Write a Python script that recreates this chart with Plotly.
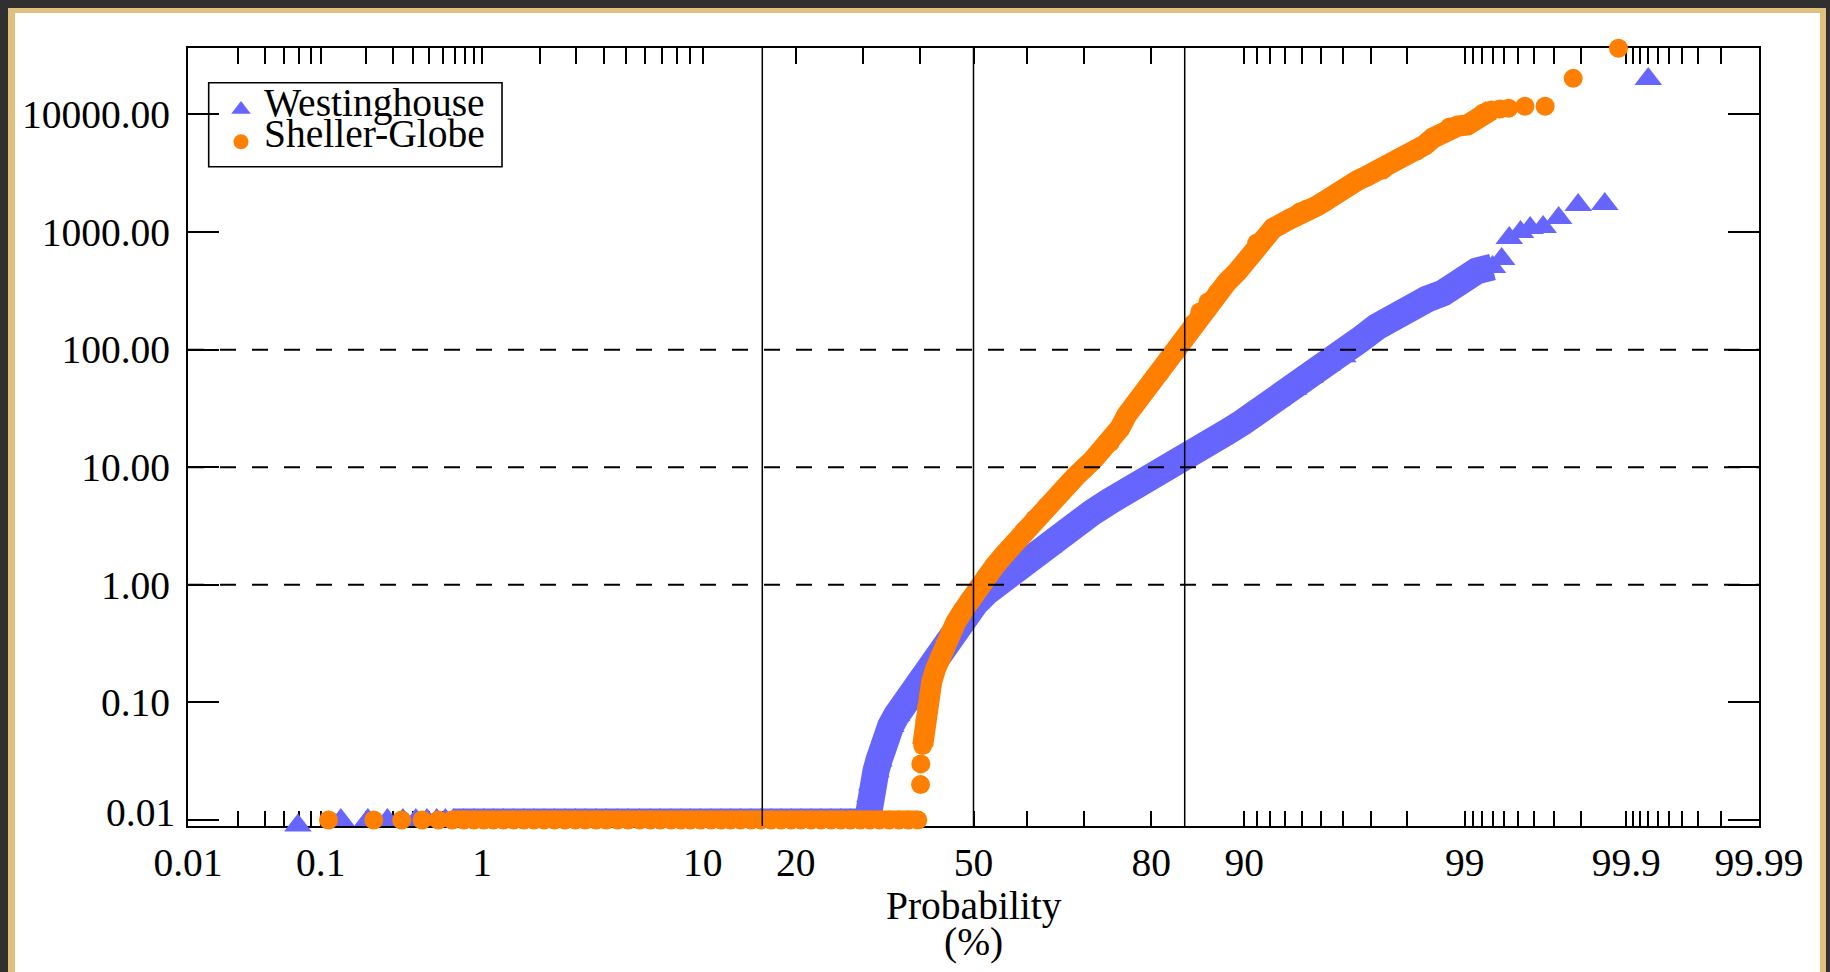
import plotly.graph_objects as go
from statistics import NormalDist

_nd = NormalDist()


def zq(p):
    """probability (%) -> position on the normal-probability axis"""
    return _nd.inv_cdf(p / 100.0)


# ---------------- data ----------------
series_names = ["Westinghouse", "Sheller-Globe"]

west_pct = [0.069, 0.137, 0.207, 0.276, 0.345, 0.414, 0.483, 0.552, 0.62, 0.69,
            0.79, 0.90, 1.02, 1.15, 1.30, 1.47, 1.66, 1.87, 2.1, 2.36,
            2.65, 2.97, 3.3, 3.7, 4.1, 4.6, 5.1, 5.7, 6.3, 6.9,
            7.6, 8.3, 9.0, 9.8, 10.7, 11.6, 12.5, 13.5, 14.6, 15.7,
            16.9, 18.1, 19.4, 20.7, 22.1, 23.5, 25.0, 26.5, 28.0, 29.6,
            30.8,
            30.9, 31.2, 31.5, 32.2, 32.7, 33.2, 33.9, 34.75, 35.8, 37.1,
            38.3, 39.6, 40.9, 42.2, 43.6, 45.1, 46.85, 48.55, 50.4, 52.5,
            54.6, 56.8, 59.1, 61.4, 63.8, 65.9, 68.6, 71.4, 74.1, 76.6,
            78.9, 81.1, 82.7, 84.2, 85.6, 86.85, 88.5, 89.9, 91.25, 92.45,
            93.5, 94.43, 95.28, 95.98, 96.63, 97.19, 97.64, 98.06, 98.41, 98.69,
            98.93, 99.14, 99.30, 99.38, 99.44, 99.52, 99.58, 99.65, 99.72, 99.79,
            99.86, 99.93]
west_val = [0.009, 0.01, 0.01, 0.01, 0.01, 0.01, 0.01, 0.01, 0.01, 0.01,
            0.01, 0.01, 0.01, 0.01, 0.01, 0.01, 0.01, 0.01, 0.01, 0.01,
            0.01, 0.01, 0.01, 0.01, 0.01, 0.01, 0.01, 0.01, 0.01, 0.01,
            0.01, 0.01, 0.01, 0.01, 0.01, 0.01, 0.01, 0.01, 0.01, 0.01,
            0.01, 0.01, 0.01, 0.01, 0.01, 0.01, 0.01, 0.01, 0.01, 0.01,
            0.01,
            0.0127, 0.016, 0.020, 0.026, 0.032, 0.041, 0.051, 0.063, 0.078, 0.097,
            0.12, 0.149, 0.189, 0.234, 0.29, 0.367, 0.455, 0.565, 0.70, 0.87,
            1.04, 1.24, 1.47, 1.76, 2.10, 2.81, 3.42, 4.16, 5.16, 6.40,
            7.63, 9.10, 10.65, 12.2, 14.0, 16.1, 19.9, 24.2, 30.0, 37.3,
            46.2, 58.5, 74.0, 88.0, 121.0, 156.0, 193.0, 230.0, 269.0, 303.0,
            398.0, 466.0, 504.0, 589.0, 889.0, 1000.0, 1081.0, 1104.0, 1315.0, 1698.0,
            1731.0, 20000.0]

sheller_pct = [0.113, 0.226, 0.339, 0.452, 0.565, 0.678, 0.79, 0.90, 1.02, 1.15,
               1.30, 1.47, 1.66, 1.87, 2.1, 2.36, 2.65, 2.97, 3.3, 3.7,
               4.1, 4.6, 5.1, 5.7, 6.3, 6.9, 7.6, 8.3, 9.0, 9.8,
               10.7, 11.6, 12.5, 13.5, 14.6, 15.7, 16.9, 18.1, 19.4, 20.7,
               22.1, 23.5, 25.0, 26.5, 28.0, 29.6, 31.2, 32.8, 34.5, 36.2,
               37.9, 39.6,
               40.1, 40.15, 40.5, 40.7, 40.9, 41.25, 41.6, 42.15, 42.9, 43.65,
               44.6, 45.5, 46.65, 47.95, 49.3, 50.8, 52.3, 54.0, 55.7, 57.6,
               59.4, 61.4, 63.6, 65.9, 68.6, 71.4, 74.1, 75.6, 76.6, 77.75,
               78.9, 80.1, 81.1, 82.1, 83.2, 84.2, 85.05, 85.8, 86.65, 87.55,
               88.5, 89.4, 90.2, 91.0, 92.2, 93.3, 93.9, 94.27, 94.8, 95.2,
               95.55, 95.94, 96.26, 96.56, 96.87, 97.13, 97.37, 97.62, 97.83, 98.01,
               98.21, 98.37, 98.52, 98.67, 98.79, 98.91, 99.03, 99.12, 99.21, 99.29,
               99.365, 99.435, 99.548, 99.66, 99.774, 99.887]
sheller_val = [0.01, 0.01, 0.01, 0.01, 0.01, 0.01, 0.01, 0.01, 0.01, 0.01,
               0.01, 0.01, 0.01, 0.01, 0.01, 0.01, 0.01, 0.01, 0.01, 0.01,
               0.01, 0.01, 0.01, 0.01, 0.01, 0.01, 0.01, 0.01, 0.01, 0.01,
               0.01, 0.01, 0.01, 0.01, 0.01, 0.01, 0.01, 0.01, 0.01, 0.01,
               0.01, 0.01, 0.01, 0.01, 0.01, 0.01, 0.01, 0.01, 0.01, 0.01,
               0.01, 0.01,
               0.02, 0.03, 0.043, 0.055, 0.071, 0.091, 0.116, 0.149, 0.194, 0.245,
               0.31, 0.385, 0.479, 0.596, 0.754, 0.94, 1.165, 1.445, 1.79, 2.27,
               2.87, 3.63, 4.68, 6.03, 8.41, 11.5, 16.1, 21.5, 27.8, 34.5,
               42.7, 52.0, 63.2, 78.5, 97.3, 128.0, 165.0, 209.0, 254.0, 303.0,
               376.0, 457.0, 578.0, 805.0, 1079.0, 1290.0, 1485.0, 1570.0, 1663.0, 1834.0,
               2060.0, 2230.0, 2450.0, 2760.0, 2990.0, 3235.0, 3365.0, 3865.0, 4260.0, 4520.0,
               4890.0, 5500.0, 6310.0, 6940.0, 7810.0, 7960.0, 8130.0, 8960.0, 10270.0, 10900.0,
               11120.0, 11270.0, 11740.0, 11740.0, 20270.0, 36500.0]

# probability ranges where the plotted points are so dense that they merge into a band
# (range low, range high, band thickness in px)
west_bands = [(0.68, 30.8, 23), (30.8, 99.31, 27)]
sheller_bands = [(0.67, 39.7, 19), (40.4, 99.3, 21)]

x_major_pct = [0.01, 0.1, 1, 10, 20, 50, 80, 90, 99, 99.9, 99.99]
x_major_text = ["0.01", "0.1", "1", "10", "20", "50", "80", "90", "99", "99.9", "99.99"]
x_minor_pct = [0.025, 0.04, 0.055, 0.07, 0.085,
               0.2, 0.3, 0.4, 0.5, 0.6, 0.7, 0.8, 0.9,
               2, 3, 4, 5, 6, 7, 8, 9,
               30, 40, 60, 70,
               91, 92, 93, 94, 95, 96, 97, 98,
               99.1, 99.2, 99.3, 99.4, 99.5, 99.6, 99.7, 99.8,
               99.91, 99.92, 99.93, 99.94, 99.95, 99.96, 99.97, 99.98]
y_tick_vals = [0.01, 0.1, 1, 10, 100, 1000, 10000]
y_tick_text = ["0.01", "0.10", "1.00", "10.00", "100.00", "1000.00", "10000.00"]
sigma_lines = [-1, 0, 1]          # solid vertical grid lines (in standard deviations)
dashed_levels = [1, 10, 100]      # dashed horizontal grid lines

# ---------------- styling / geometry ----------------
W, H = 1830, 972
ML, MR, MT, MB = 188, 71, 48, 146
PW, PH = W - ML - MR, H - MT - MB
FONT = "Liberation Serif"
FS = 39.5
BLUE = "#6666FF"
ORANGE = "#FF7F00"
TAN = "#E0C07E"
DARK = "#303030"


def fx(px):
    return (px - ML) / PW


def fy(py):
    return (H - MB - py) / PH


def band_trace(pcts, vals, lo, hi, width, color):
    bx = [zq(p) for p in pcts if lo <= p <= hi]
    by = [v for p, v in zip(pcts, vals) if lo <= p <= hi]
    return go.Scatter(x=bx, y=by, mode="lines", line=dict(color=color, width=width),
                      cliponaxis=False, showlegend=False, hoverinfo="skip")


fig = go.Figure()

for lo, hi, wd in west_bands:
    fig.add_trace(band_trace(west_pct, west_val, lo, hi, wd, BLUE))
fig.add_trace(go.Scatter(
    x=[zq(p) for p in west_pct], y=west_val, mode="markers", name=series_names[0],
    marker=dict(symbol="triangle-up", size=24, color=BLUE, line=dict(width=0)),
    cliponaxis=False, showlegend=False, hoverinfo="skip"))

for lo, hi, wd in sheller_bands:
    fig.add_trace(band_trace(sheller_pct, sheller_val, lo, hi, wd, ORANGE))
fig.add_trace(go.Scatter(
    x=[zq(p) for p in sheller_pct], y=sheller_val, mode="markers", name=series_names[1],
    marker=dict(symbol="circle", size=19, color=ORANGE, line=dict(width=0)),
    cliponaxis=False, showlegend=False, hoverinfo="skip"))

# legend keys (drawn on a hidden overlay axis pair spanning the plot area)
fig.add_trace(go.Scatter(
    x=[fx(241)], y=[fy(109.5)], xaxis="x2", yaxis="y2", mode="markers",
    marker=dict(symbol="triangle-up", size=17, color=BLUE), cliponaxis=False,
    showlegend=False, hoverinfo="skip"))
fig.add_trace(go.Scatter(
    x=[fx(241)], y=[fy(141.7)], xaxis="x2", yaxis="y2", mode="markers",
    marker=dict(symbol="circle", size=15, color=ORANGE), cliponaxis=False,
    showlegend=False, hoverinfo="skip"))

shapes = [
    dict(type="rect", xref="paper", yref="paper", x0=fx(8), x1=fx(1826), y0=fy(1020), y1=fy(8),
         fillcolor=TAN, line=dict(width=0), layer="below"),
    dict(type="rect", xref="paper", yref="paper", x0=fx(15), x1=fx(1820), y0=fy(1020), y1=fy(13),
         fillcolor="white", line=dict(width=0), layer="below"),
]
for s in sigma_lines:
    shapes.append(dict(type="line", xref="x", yref="paper", x0=s, x1=s, y0=0, y1=1,
                       line=dict(color="black", width=1.5), layer="above"))
for v in dashed_levels:
    shapes.append(dict(type="line", xref="paper", yref="y", x0=0, x1=1, y0=v, y1=v,
                       line=dict(color="black", width=2, dash="16px,16px"), layer="above"))
shapes.append(dict(type="rect", xref="paper", yref="paper", x0=fx(208.7), x1=fx(502),
                   y0=fy(166.7), y1=fy(82.7), line=dict(color="black", width=1.6),
                   fillcolor="rgba(0,0,0,0)", layer="above"))

tfont = dict(family=FONT, size=FS, color="black")
# the lowest y label sits a little above its tick in the reference
y_axis_text = [t if v != 0.01 else "" for v, t in zip(y_tick_vals, y_tick_text)]
annotations = [
    dict(text=y_tick_text[0], x=fx(177), y=fy(813), xref="paper", yref="paper",
         xanchor="right", yanchor="middle", showarrow=False, font=tfont),
    dict(text=series_names[0], x=fx(262), y=fy(102.7), xref="paper", yref="paper",
         xanchor="left", yanchor="middle", showarrow=False, font=tfont),
    dict(text=series_names[1], x=fx(262), y=fy(134.4), xref="paper", yref="paper",
         xanchor="left", yanchor="middle", showarrow=False, font=tfont),
    dict(text="Probability", x=fx(973.5), y=fy(905.7), xref="paper", yref="paper",
         xanchor="center", yanchor="middle", showarrow=False, font=tfont),
    dict(text="(%)", x=fx(973.5), y=fy(941.7), xref="paper", yref="paper",
         xanchor="center", yanchor="middle", showarrow=False, font=tfont),
]

fig.update_layout(
    width=W, height=H, autosize=False,
    margin=dict(l=ML, r=MR, t=MT, b=MB, pad=0),
    paper_bgcolor=DARK, plot_bgcolor="white",
    showlegend=False,
    shapes=shapes, annotations=annotations,
    xaxis=dict(
        range=[zq(0.01), zq(99.99)], tickmode="array",
        tickvals=[zq(p) for p in x_major_pct], ticktext=x_major_text,
        ticks="inside", ticklen=15.5, tickwidth=1.6, tickcolor="black",
        showline=True, linewidth=2, linecolor="black", mirror="allticks",
        showgrid=False, zeroline=False, layer="below traces",
        tickfont=tfont, ticklabelstandoff=1,
        minor=dict(tickmode="array", tickvals=[zq(p) for p in x_minor_pct],
                   ticks="inside", ticklen=15.5, tickwidth=1.6, tickcolor="black",
                   showgrid=False),
        fixedrange=True),
    yaxis=dict(
        type="log", range=[-2.051, 4.565], tickmode="array",
        tickvals=y_tick_vals, ticktext=y_axis_text,
        ticks="inside", ticklen=31, tickwidth=1.6, tickcolor="black",
        showline=True, linewidth=2, linecolor="black", mirror="allticks",
        showgrid=False, zeroline=False, layer="below traces",
        tickfont=tfont, ticklabelstandoff=8, fixedrange=True),
    xaxis2=dict(overlaying="x", range=[0, 1], visible=False, fixedrange=True),
    yaxis2=dict(overlaying="y", range=[0, 1], visible=False, fixedrange=True),
)

fig.write_html("out.html", config={"displayModeBar": False})
